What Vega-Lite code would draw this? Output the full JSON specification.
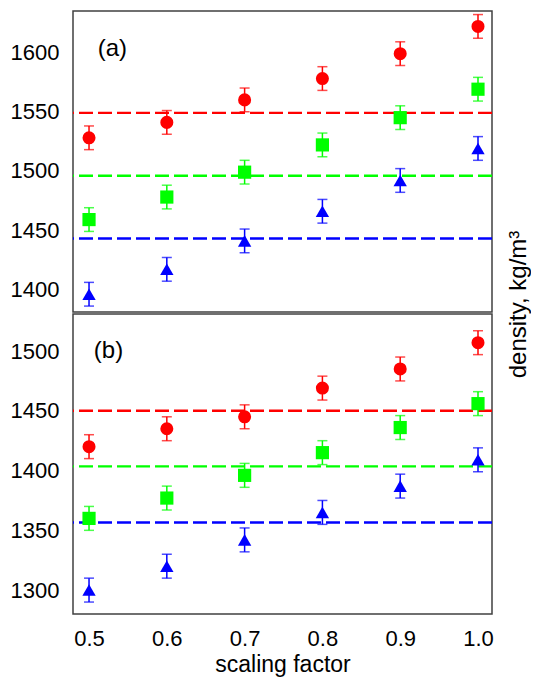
{
  "$schema": "https://vega.github.io/schema/vega-lite/v6.json",
  "padding": {"left": 9, "top": 10, "right": 0, "bottom": 0},
  "bounds": "flush",
  "spacing": 2,
  "background": "white",
  "config": {
    "font": "Liberation Sans",
    "view": {"stroke": "#404040", "strokeWidth": 1.5},
    "axis": {"grid": false, "domain": false, "ticks": false, "labelFont": "Liberation Sans", "titleFont": "Liberation Sans", "labelColor": "#000000", "titleColor": "#000000", "labelFontSize": 22, "titleFontSize": 25, "titleFontWeight": "normal"}
  },
  "datasets": {
    "pts": [
      {"p": "a", "x": 0.5, "s": "red", "y": 1528, "lo": 1518, "hi": 1538},
      {"p": "a", "x": 0.6, "s": "red", "y": 1541, "lo": 1531, "hi": 1551},
      {"p": "a", "x": 0.7, "s": "red", "y": 1560, "lo": 1550, "hi": 1570},
      {"p": "a", "x": 0.8, "s": "red", "y": 1578, "lo": 1568, "hi": 1588},
      {"p": "a", "x": 0.9, "s": "red", "y": 1599, "lo": 1589, "hi": 1609},
      {"p": "a", "x": 1.0, "s": "red", "y": 1622, "lo": 1612, "hi": 1632},
      {"p": "a", "x": 0.5, "s": "green", "y": 1459, "lo": 1449, "hi": 1469},
      {"p": "a", "x": 0.6, "s": "green", "y": 1478, "lo": 1468, "hi": 1488},
      {"p": "a", "x": 0.7, "s": "green", "y": 1499, "lo": 1489, "hi": 1509},
      {"p": "a", "x": 0.8, "s": "green", "y": 1522, "lo": 1512, "hi": 1532},
      {"p": "a", "x": 0.9, "s": "green", "y": 1545, "lo": 1535, "hi": 1555},
      {"p": "a", "x": 1.0, "s": "green", "y": 1569, "lo": 1559, "hi": 1579},
      {"p": "a", "x": 0.5, "s": "blue", "y": 1396, "lo": 1386, "hi": 1406},
      {"p": "a", "x": 0.6, "s": "blue", "y": 1417, "lo": 1407, "hi": 1427},
      {"p": "a", "x": 0.7, "s": "blue", "y": 1441, "lo": 1431, "hi": 1451},
      {"p": "a", "x": 0.8, "s": "blue", "y": 1466, "lo": 1456, "hi": 1476},
      {"p": "a", "x": 0.9, "s": "blue", "y": 1492, "lo": 1482, "hi": 1502},
      {"p": "a", "x": 1.0, "s": "blue", "y": 1519, "lo": 1509, "hi": 1529},
      {"p": "b", "x": 0.5, "s": "red", "y": 1420, "lo": 1410, "hi": 1430},
      {"p": "b", "x": 0.6, "s": "red", "y": 1435, "lo": 1425, "hi": 1445},
      {"p": "b", "x": 0.7, "s": "red", "y": 1445, "lo": 1435, "hi": 1455},
      {"p": "b", "x": 0.8, "s": "red", "y": 1469, "lo": 1459, "hi": 1479},
      {"p": "b", "x": 0.9, "s": "red", "y": 1485, "lo": 1475, "hi": 1495},
      {"p": "b", "x": 1.0, "s": "red", "y": 1507, "lo": 1497, "hi": 1517},
      {"p": "b", "x": 0.5, "s": "green", "y": 1360, "lo": 1350, "hi": 1370},
      {"p": "b", "x": 0.6, "s": "green", "y": 1377, "lo": 1367, "hi": 1387},
      {"p": "b", "x": 0.7, "s": "green", "y": 1396, "lo": 1386, "hi": 1406},
      {"p": "b", "x": 0.8, "s": "green", "y": 1415, "lo": 1405, "hi": 1425},
      {"p": "b", "x": 0.9, "s": "green", "y": 1436, "lo": 1426, "hi": 1446},
      {"p": "b", "x": 1.0, "s": "green", "y": 1456, "lo": 1446, "hi": 1466},
      {"p": "b", "x": 0.5, "s": "blue", "y": 1300, "lo": 1290, "hi": 1310},
      {"p": "b", "x": 0.6, "s": "blue", "y": 1320, "lo": 1310, "hi": 1330},
      {"p": "b", "x": 0.7, "s": "blue", "y": 1342, "lo": 1332, "hi": 1352},
      {"p": "b", "x": 0.8, "s": "blue", "y": 1365, "lo": 1355, "hi": 1375},
      {"p": "b", "x": 0.9, "s": "blue", "y": 1387, "lo": 1377, "hi": 1397},
      {"p": "b", "x": 1.0, "s": "blue", "y": 1409, "lo": 1399, "hi": 1419}
    ],
    "refs": [
      {"p": "a", "s": "red", "v": 1549},
      {"p": "a", "s": "green", "v": 1496},
      {"p": "a", "s": "blue", "v": 1443},
      {"p": "b", "s": "red", "v": 1450},
      {"p": "b", "s": "green", "v": 1403.5},
      {"p": "b", "s": "blue", "v": 1356.5}
    ],
    "labels": [
      {"p": "a", "x": 0.53, "y": 1603, "t": "(a)"},
      {"p": "b", "x": 0.525, "y": 1500, "t": "(b)"}
    ]
  },
  "vconcat": [
    {
      "width": 419,
      "height": 301,
      "layer": [
        {
          "data": {"name": "refs"},
          "transform": [{"filter": "datum.p === 'a'"}],
          "mark": {"type": "rule", "strokeDash": [14, 5], "strokeWidth": 2.4},
          "encoding": {
            "y": {"field": "v", "type": "quantitative", "scale": {"domain": [1381, 1635], "nice": false, "zero": false},
                  "axis": {"values": [1400, 1450, 1500, 1550, 1600], "format": "d", "labelPadding": 14, "title": "density, kg/m³", "titleX": 452, "titleY": 293, "titleAngle": -90, "titleAlign": "center", "titleBaseline": "alphabetic", "titleFontSize": 24}},
            "color": {"field": "s", "type": "nominal", "scale": {"domain": ["red", "green", "blue"], "range": ["#ff0000", "#00ff00", "#0000ff"]}, "legend": null}
          }
        },
        {
          "data": {"name": "pts"},
          "transform": [{"filter": "datum.p === 'a'"}],
          "layer": [
            {
              "mark": {"type": "rule", "strokeWidth": 1.5},
              "encoding": {
                "x": {"field": "x", "type": "quantitative", "scale": {"domain": [0.4794, 1.018], "nice": false, "zero": false}, "axis": null},
                "y": {"field": "lo", "type": "quantitative"},
                "y2": {"field": "hi"},
                "color": {"field": "s", "type": "nominal", "legend": null}
              }
            },
            {
              "mark": {"type": "tick", "orient": "horizontal", "size": 10, "thickness": 1.5},
              "encoding": {
                "x": {"field": "x", "type": "quantitative"},
                "y": {"field": "lo", "type": "quantitative"},
                "color": {"field": "s", "type": "nominal", "legend": null}
              }
            },
            {
              "mark": {"type": "tick", "orient": "horizontal", "size": 10, "thickness": 1.5},
              "encoding": {
                "x": {"field": "x", "type": "quantitative"},
                "y": {"field": "hi", "type": "quantitative"},
                "color": {"field": "s", "type": "nominal", "legend": null}
              }
            },
            {
              "mark": {"type": "point", "filled": true, "opacity": 1},
              "encoding": {
                "x": {"field": "x", "type": "quantitative"},
                "y": {"field": "y", "type": "quantitative"},
                "color": {"field": "s", "type": "nominal", "legend": null},
                "shape": {"field": "s", "type": "nominal", "scale": {"domain": ["red", "green", "blue"], "range": ["circle", "square", "triangle-up"]}, "legend": null},
                "size": {"field": "s", "type": "nominal", "scale": {"domain": ["red", "green", "blue"], "range": [170, 178, 256]}, "legend": null}
              }
            }
          ]
        },
        {
          "data": {"name": "labels"},
          "transform": [{"filter": "datum.p === 'a'"}],
          "mark": {"type": "text", "fontSize": 24, "font": "Liberation Sans", "color": "#000000", "baseline": "middle", "align": "center"},
          "encoding": {
            "x": {"field": "x", "type": "quantitative"},
            "y": {"field": "y", "type": "quantitative"},
            "text": {"field": "t"}
          }
        }
      ]
    },
    {
      "width": 419,
      "height": 300,
      "layer": [
        {
          "data": {"name": "refs"},
          "transform": [{"filter": "datum.p === 'b'"}],
          "mark": {"type": "rule", "strokeDash": [14, 5], "strokeWidth": 2.4},
          "encoding": {
            "y": {"field": "v", "type": "quantitative", "scale": {"domain": [1280, 1531], "nice": false, "zero": false},
                  "axis": {"values": [1300, 1350, 1400, 1450, 1500], "format": "d", "labelPadding": 14, "title": null}},
            "color": {"field": "s", "type": "nominal", "scale": {"domain": ["red", "green", "blue"], "range": ["#ff0000", "#00ff00", "#0000ff"]}, "legend": null}
          }
        },
        {
          "data": {"name": "pts"},
          "transform": [{"filter": "datum.p === 'b'"}],
          "layer": [
            {
              "mark": {"type": "rule", "strokeWidth": 1.5},
              "encoding": {
                "x": {"field": "x", "type": "quantitative", "scale": {"domain": [0.4794, 1.018], "nice": false, "zero": false},
                      "axis": {"values": [0.5, 0.6, 0.7, 0.8, 0.9, 1.0], "format": ".1f", "labelPadding": 14, "title": "scaling factor", "titlePadding": 4, "titleFontSize": 23}},
                "y": {"field": "lo", "type": "quantitative"},
                "y2": {"field": "hi"},
                "color": {"field": "s", "type": "nominal", "legend": null}
              }
            },
            {
              "mark": {"type": "tick", "orient": "horizontal", "size": 10, "thickness": 1.5},
              "encoding": {
                "x": {"field": "x", "type": "quantitative"},
                "y": {"field": "lo", "type": "quantitative"},
                "color": {"field": "s", "type": "nominal", "legend": null}
              }
            },
            {
              "mark": {"type": "tick", "orient": "horizontal", "size": 10, "thickness": 1.5},
              "encoding": {
                "x": {"field": "x", "type": "quantitative"},
                "y": {"field": "hi", "type": "quantitative"},
                "color": {"field": "s", "type": "nominal", "legend": null}
              }
            },
            {
              "mark": {"type": "point", "filled": true, "opacity": 1},
              "encoding": {
                "x": {"field": "x", "type": "quantitative"},
                "y": {"field": "y", "type": "quantitative"},
                "color": {"field": "s", "type": "nominal", "legend": null},
                "shape": {"field": "s", "type": "nominal", "scale": {"domain": ["red", "green", "blue"], "range": ["circle", "square", "triangle-up"]}, "legend": null},
                "size": {"field": "s", "type": "nominal", "scale": {"domain": ["red", "green", "blue"], "range": [170, 178, 256]}, "legend": null}
              }
            }
          ]
        },
        {
          "data": {"name": "labels"},
          "transform": [{"filter": "datum.p === 'b'"}],
          "mark": {"type": "text", "fontSize": 24, "font": "Liberation Sans", "color": "#000000", "baseline": "middle", "align": "center"},
          "encoding": {
            "x": {"field": "x", "type": "quantitative"},
            "y": {"field": "y", "type": "quantitative"},
            "text": {"field": "t"}
          }
        }
      ]
    }
  ]
}
